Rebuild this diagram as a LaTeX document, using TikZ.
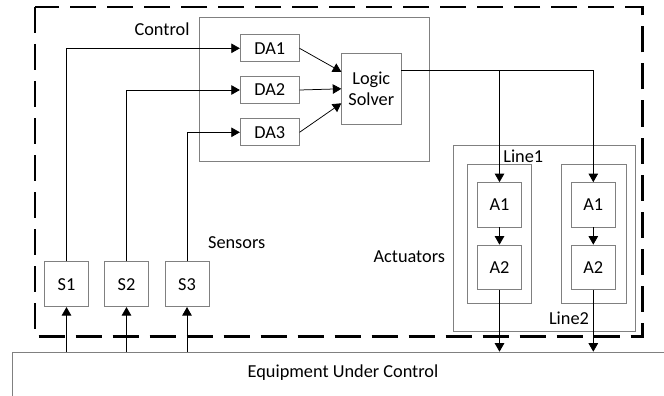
\documentclass[tikz,border=0pt]{standalone}
\usepackage{fontspec}
\setmainfont{Carlito}
\usetikzlibrary{arrows.meta}

\begin{document}
\begin{tikzpicture}[x=1pt, y=-1pt, >={Triangle[length=8.5pt,width=9.5pt]},
    every node/.style={font=\fontsize{18.3}{21}\selectfont, inner sep=0pt},
    box/.style={draw=black!50, line width=0.7pt, minimum width=44.4pt, minimum height=44.4pt},
    dabox/.style={box, minimum width=59pt, minimum height=27pt},
    group/.style={draw=black!50, line width=0.6pt},
    conn/.style={->, line width=0.75pt}]
  \useasboundingbox (0,0) rectangle (664,396);
  % plant
  \begin{scope}
    \clip (0,0) rectangle (664,396);
    \node[box, anchor=north west, minimum width=700pt, minimum height=80pt] (euc) at (12.3,351.7) {};
  \end{scope}
  \node (euclabel) at (343,373) {Equipment Under Control};
  % safety system boundary
  \draw[line width=2.8pt, dash pattern=on 26pt off 11pt] (35,7) rectangle (642.5,336.5);
  % control part
  \node[group, minimum width=229.8pt, minimum height=144pt] (control) at (314.4,89.3) {};
  \node (controllabel) at (162,29.3) {Control};
  \node[dabox] (da1) at (269.7,48.3) {DA1};
  \node[dabox] (da2) at (269.7,90) {DA2};
  \node[dabox] (da3) at (269.7,132.3) {DA3};
  \node[box, minimum width=59.3pt, minimum height=71pt, align=center] (ls) at (371.3,88.8) {Logic\\Solver};
  % sensors
  \node[box, minimum width=44pt, minimum height=45pt] (s1) at (66.5,284.2) {S1};
  \node[box, minimum width=44pt, minimum height=45pt] (s2) at (126.5,284.2) {S2};
  \node[box, minimum width=44pt, minimum height=45pt] (s3) at (187,284.2) {S3};
  \node (sensorlabel) at (236.7,242.3) {Sensors};
  % actuators
  \node[group, minimum width=182.4pt, minimum height=186pt] (act) at (544.5,238) {};
  \node[group, minimum width=64.3pt, minimum height=139pt] (line1) at (499.2,233.8) {};
  \node[group, minimum width=65pt, minimum height=139pt] (line2) at (593.8,233.8) {};
  \node (line1label) at (523.3,156) {Line1};
  \node (line2label) at (569,318.3) {Line2};
  \node (actlabel) at (409.3,256.7) {Actuators};
  \node[box] (a1l) at (499.5,204.7) {A1};
  \node[box] (a2l) at (499.5,267.2) {A2};
  \node[box] (a1r) at (593.3,204.7) {A1};
  \node[box] (a2r) at (593.3,267.2) {A2};
  % signal paths
  \draw[conn] (s1.south |- euc.north) -- (s1.south);
  \draw[conn] (s2.south |- euc.north) -- (s2.south);
  \draw[conn] (s3.south |- euc.north) -- (s3.south);
  \draw[conn] (s1.north) |- (da1.west);
  \draw[conn] (s2.north) |- (da2.west);
  \draw[conn] (s3.north) |- (da3.west);
  \draw[conn] (da1.east) -- ([yshift=17pt]ls.west);
  \draw[conn] (da2.east) -- (ls.west);
  \draw[conn] (da3.east) -- ([yshift=-14.5pt]ls.west);
  \draw[conn] ([yshift=18pt]ls.east) -| (a1r.north);
  \draw[conn] ([yshift=18pt]ls.east) -| (a1l.north);
  \draw[conn] (a1l) -- (a2l);
  \draw[conn] (a1r) -- (a2r);
  \draw[conn] (a2l.south) -- (a2l.south |- euc.north);
  \draw[conn] (a2r.south) -- (a2r.south |- euc.north);
\end{tikzpicture}
\end{document}
